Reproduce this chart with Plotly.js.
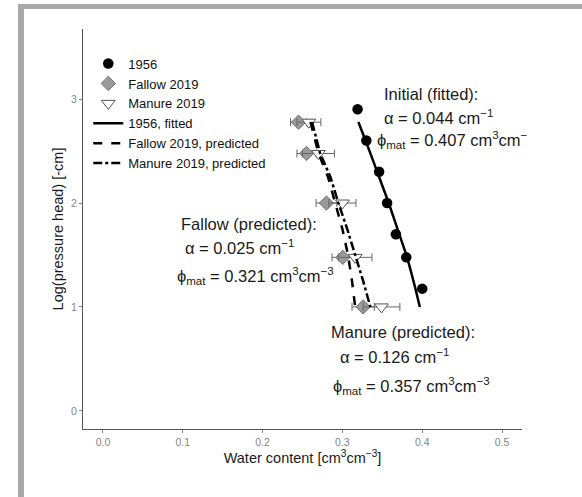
<!DOCTYPE html>
<html>
<head>
<meta charset="utf-8">
<script src="https://cdn.plot.ly/plotly-3.0.1.min.js"></script>
<style>
  html, body { margin: 0; padding: 0; background: #ffffff; }
  #wrap { position: relative; width: 582px; height: 497px; overflow: hidden; }
  #frame { position: absolute; left: 18px; top: 4px; width: 570px; height: 500px;
           border-top: 5px solid #a9a9a9; border-left: 6px solid #a9a9a9; box-sizing: border-box; }
  #chart { position: absolute; left: 0; top: 0; width: 582px; height: 497px; }
</style>
</head>
<body>
<div id="wrap">
  <div id="frame"></div>
  <div id="chart"></div>
</div>
<script>
// ---- data ----
// log10 pressure head [-cm]
const logH1956 = [2.903, 2.602, 2.301, 2.0, 1.699, 1.477, 1.176];
const theta1956 = [0.319, 0.330, 0.346, 0.356, 0.367, 0.380, 0.400];

const logH2019 = [2.778, 2.477, 2.0, 1.477, 1.0];
const thetaFallow = [0.245, 0.255, 0.280, 0.3005, 0.326];
const errFallow = [0.010, 0.012, 0.013, 0.0135, 0.014];
const thetaManure = [0.258, 0.270, 0.300, 0.316, 0.349];
const errManure = [0.015, 0.020, 0.017, 0.021, 0.023];

const logHFit = [2.78, 2.5, 2.25, 2.0, 1.75, 1.5, 1.25, 1.0];
const thetaFit1956 = [0.320, 0.334, 0.346, 0.358, 0.369, 0.380, 0.389, 0.397];

const logHPred = [2.78, 2.48, 2.25, 2.0, 1.75, 1.5, 1.25, 1.0];
const thetaPredFallow = [0.260, 0.270, 0.282, 0.291, 0.300, 0.307, 0.312, 0.316];
const thetaPredManure = [0.262, 0.272, 0.285, 0.295, 0.306, 0.316, 0.326, 0.335];

const xTicks = [0.0, 0.1, 0.2, 0.3, 0.4, 0.5];
const yTicks = [0, 1, 2, 3];

const legendNames = ["1956", "Fallow 2019", "Manure 2019", "1956, fitted",
                     "Fallow 2019, predicted", "Manure 2019, predicted"];

const textLines = [
  {t: "Initial (fitted):", x: 0.350, y: 3.053},
  {t: "\u03b1 = 0.044 cm<sup>\u22121</sup>", x: 0.349, y: 2.829},
  {t: "\u03d5<sub>mat</sub> = 0.407 cm<sup>3</sup>cm<sup>\u2212</sup>", x: 0.341, y: 2.604},
  {t: "Fallow (predicted):", x: 0.0954, y: 1.794},
  {t: "\u03b1 = 0.025 cm<sup>\u22121</sup>", x: 0.100, y: 1.575},
  {t: "\u03d5<sub>mat</sub> = 0.321 cm<sup>3</sup>cm<sup>\u22123</sup>", x: 0.0908, y: 1.302},
  {t: "Manure (predicted):", x: 0.283, y: 0.756},
  {t: "\u03b1 = 0.126 cm<sup>\u22121</sup>", x: 0.294, y: 0.532},
  {t: "\u03d5<sub>mat</sub> = 0.357 cm<sup>3</sup>cm<sup>\u22123</sup>", x: 0.286, y: 0.242}
];

const FONT = "Liberation Sans, Arial, sans-serif";

const traces = [
  {
    x: thetaFallow, y: logH2019, name: legendNames[1], legendrank: 2,
    type: "scatter", mode: "markers",
    marker: {symbol: "diamond", size: 11, color: "#9a9a9a", line: {color: "#707070", width: 1}},
    error_x: {type: "data", array: errFallow, visible: true, color: "#666666", thickness: 1, width: 4}
  },
  {
    x: thetaManure, y: logH2019, name: legendNames[2], legendrank: 3,
    type: "scatter", mode: "markers",
    marker: {symbol: "triangle-down", size: 12, color: "#ffffff", line: {color: "#555555", width: 1}},
    error_x: {type: "data", array: errManure, visible: true, color: "#666666", thickness: 1, width: 4}
  },
  {
    x: thetaPredFallow, y: logHPred, name: legendNames[4], legendrank: 5,
    type: "scatter", mode: "lines",
    line: {color: "#000000", width: 2.5, dash: "dash"}
  },
  {
    x: thetaPredManure, y: logHPred, name: legendNames[5], legendrank: 6,
    type: "scatter", mode: "lines",
    line: {color: "#000000", width: 2.5, dash: "dashdot"}
  },
  {
    x: thetaFit1956, y: logHFit, name: legendNames[3], legendrank: 4,
    type: "scatter", mode: "lines",
    line: {color: "#000000", width: 2.5, shape: "spline"}
  },
  {
    x: theta1956, y: logH1956, name: legendNames[0], legendrank: 1,
    type: "scatter", mode: "markers",
    marker: {symbol: "circle", size: 10.5, color: "#000000"}
  }
];

const annotations = textLines.map(a => ({
  text: a.t, x: a.x, y: a.y, xref: "x", yref: "y",
  xanchor: "left", yanchor: "middle", showarrow: false,
  font: {family: FONT, size: 16.5, color: "#1a1a1a"}
}));

const layout = {
  width: 582, height: 497,
  paper_bgcolor: "rgba(0,0,0,0)", plot_bgcolor: "rgba(0,0,0,0)",
  margin: {l: 83, r: 60, t: 29, b: 68},
  font: {family: FONT},
  showlegend: true,
  legend: {
    x: 0.012, y: 0.951, xanchor: "left", yanchor: "top",
    bgcolor: "rgba(0,0,0,0)", font: {family: FONT, size: 13, color: "#111111"},
    itemwidth: 30, traceorder: "normal"
  },
  xaxis: {
    range: [-0.025, 0.525], tickvals: xTicks, tickformat: ".1f",
    showgrid: false, zeroline: false, showline: true, linecolor: "#555555", linewidth: 1,
    ticks: "outside", ticklen: 3, tickcolor: "#8a8a8a", tickwidth: 1,
    tickfont: {family: FONT, size: 10.5, color: "#858585"},
    title: {text: "Water content [cm<sup>3</sup>cm<sup>\u22123</sup>]", standoff: 6,
            font: {family: FONT, size: 14.5, color: "#1a1a1a"}}
  },
  yaxis: {
    range: [-0.175, 3.675], tickvals: yTicks,
    showgrid: false, zeroline: false, showline: true, linecolor: "#555555", linewidth: 1,
    ticks: "outside", ticklen: 3, tickcolor: "#8a8a8a", tickwidth: 1,
    tickfont: {family: FONT, size: 10.5, color: "#858585"},
    title: {text: "Log(pressure head) [-cm]", standoff: 3,
            font: {family: FONT, size: 14.5, color: "#1a1a1a"}}
  },
  annotations: annotations
};

Plotly.newPlot("chart", traces, layout, {staticPlot: true, displayModeBar: false});
</script>
</body>
</html>
